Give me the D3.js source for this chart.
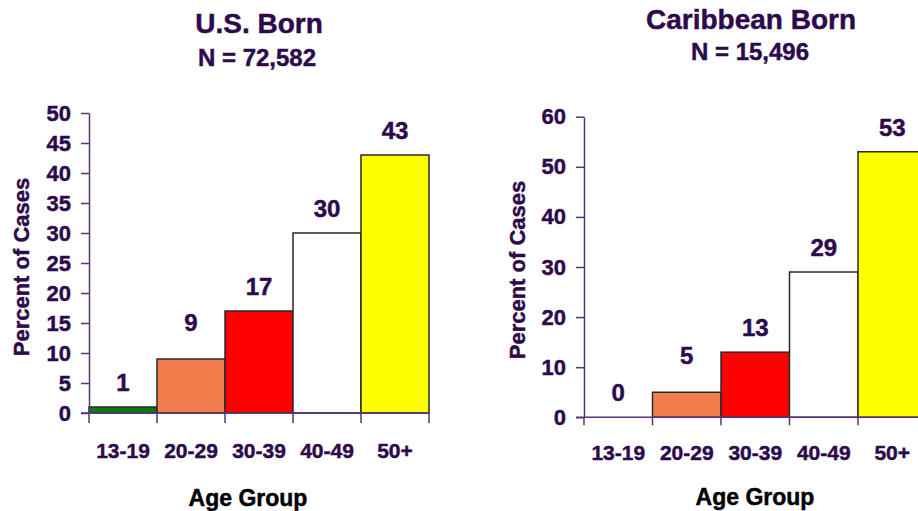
<!DOCTYPE html>
<html>
<head>
<meta charset="utf-8">
<script src="https://cdn.jsdelivr.net/npm/d3@7"></script>
<style>
  html, body { margin: 0; padding: 0; background: #ffffff; }
  svg { display: block; }
  text { font-family: "Liberation Sans", Arial, sans-serif; font-weight: bold; }
</style>
</head>
<body>
<svg id="chart" width="918" height="511"></svg>
<script>
// ---- Data ----
const ageGroups = ["13-19", "20-29", "30-39", "40-49", "50+"];
const usBornPercent = [1, 9, 17, 30, 43];
const caribbeanBornPercent = [0, 5, 13, 29, 53];
const usBornTicks = [0, 5, 10, 15, 20, 25, 30, 35, 40, 45, 50];
const caribbeanBornTicks = [0, 10, 20, 30, 40, 50, 60];
const panelTitles = ["U.S. Born", "Caribbean Born"];
const panelCounts = ["N = 72,582", "N = 15,496"];
const yAxisTitle = "Percent of Cases";
const xAxisTitle = "Age Group";

// ---- Styles ----
const textColor = "#2d0a4b";
const axisColor = "#55357a";
const barFill = ["#0b7a0b", "#f27d4d", "#ff0000", "#ffffff", "#ffff00"];
const barStroke = "#2a2a2a";
const textHalo = 0.45; // thin outline in the text's own colour for a heavier weight
// value labels lifted a little further above a short bar
const labelLift = { "20-29": 12 };

const svg = d3.select("#chart");

function heavy(sel, color) {
  return sel.attr("fill", color).attr("stroke", color).attr("stroke-width", textHalo);
}

function drawPanel(p) {
  const g = svg.append("g");
  const x = d3.scaleBand().domain(ageGroups).range([p.left, p.right]).padding(0);
  const y = d3.scaleLinear().domain([0, p.ticks[p.ticks.length - 1]]).range([p.bottom, p.top]);

  // titles
  heavy(g.append("text").attr("x", p.titleX).attr("y", p.titleY)
    .attr("text-anchor", "middle").attr("font-size", 28), textColor)
    .text(p.title);
  heavy(g.append("text").attr("x", p.countX).attr("y", p.countY)
    .attr("text-anchor", "middle").attr("font-size", 24), textColor)
    .text(p.count);

  // bars
  g.selectAll("rect.bar").data(p.values).enter().append("rect")
    .attr("class", "bar")
    .attr("x", (d, i) => x(ageGroups[i]))
    .attr("y", d => y(d))
    .attr("width", x.bandwidth())
    .attr("height", d => y(0) - y(d))
    .attr("fill", (d, i) => barFill[i])
    .attr("stroke", barStroke)
    .attr("stroke-width", 1.5)
    .attr("display", d => d > 0 ? null : "none");

  // value labels
  heavy(g.selectAll("text.val").data(p.values).enter().append("text")
    .attr("class", "val")
    .attr("x", (d, i) => x(ageGroups[i]) + x.bandwidth() / 2)
    .attr("y", (d, i) => y(d) - 16 - (labelLift[ageGroups[i]] || 0))
    .attr("text-anchor", "middle").attr("font-size", 24), textColor)
    .text(d => d);

  // y axis
  const yAxis = g.append("g").attr("transform", `translate(${p.left},0)`)
    .call(d3.axisLeft(y).tickValues(p.ticks).tickSize(8).tickPadding(10).tickSizeOuter(0));
  yAxis.select(".domain").attr("stroke", axisColor).attr("stroke-width", 1.5);
  yAxis.selectAll(".tick line").attr("stroke", axisColor).attr("stroke-width", 1.5);
  heavy(yAxis.selectAll(".tick text")
    .attr("font-family", "Liberation Sans, Arial, sans-serif")
    .attr("font-weight", "bold").attr("font-size", 22), textColor);

  // x axis: baseline extended to the left tick, boundary ticks between bands
  g.append("line")
    .attr("x1", p.left - 8).attr("x2", p.right)
    .attr("y1", y(0)).attr("y2", y(0))
    .attr("stroke", axisColor).attr("stroke-width", 1.5);
  const bounds = ageGroups.map(a => x(a)).concat([x(ageGroups[ageGroups.length - 1]) + x.bandwidth()]);
  g.selectAll("line.xtick").data(bounds).enter().append("line")
    .attr("class", "xtick")
    .attr("x1", d => d).attr("x2", d => d)
    .attr("y1", y(0)).attr("y2", y(0) + p.xTickLen)
    .attr("stroke", axisColor).attr("stroke-width", 1.5);

  // category labels
  const xAxis = g.append("g").attr("transform", `translate(0,${p.catY})`)
    .call(d3.axisBottom(x).tickSize(0).tickPadding(0));
  xAxis.select(".domain").remove();
  heavy(xAxis.selectAll(".tick text")
    .attr("dy", 0).attr("y", 0)
    .attr("font-family", "Liberation Sans, Arial, sans-serif")
    .attr("font-weight", "bold").attr("font-size", 21), textColor);

  // axis titles
  heavy(g.append("text").attr("x", p.xTitleX).attr("y", p.xTitleY)
    .attr("text-anchor", "middle").attr("font-size", 23), "#000000")
    .text(xAxisTitle);
  heavy(g.append("text")
    .attr("transform", `translate(${p.yTitleX},${p.yTitleY}) rotate(-90)`)
    .attr("text-anchor", "middle").attr("font-size", 22), textColor)
    .text(yAxisTitle);
}

drawPanel({
  title: panelTitles[0], count: panelCounts[0],
  values: usBornPercent, ticks: usBornTicks,
  left: 89, right: 429, top: 113, bottom: 413,
  titleX: 259, titleY: 33, countX: 257, countY: 66,
  xTickLen: 10, catY: 458, xTitleX: 248, xTitleY: 506,
  yTitleX: 29, yTitleY: 267
});

drawPanel({
  title: panelTitles[1], count: panelCounts[1],
  values: caribbeanBornPercent, ticks: caribbeanBornTicks,
  left: 584, right: 926.5, top: 116.7, bottom: 417.3,
  titleX: 751, titleY: 29, countX: 750, countY: 60,
  xTickLen: 8, catY: 460, xTitleX: 755, xTitleY: 505,
  yTitleX: 525, yTitleY: 270
});
</script>
</body>
</html>
